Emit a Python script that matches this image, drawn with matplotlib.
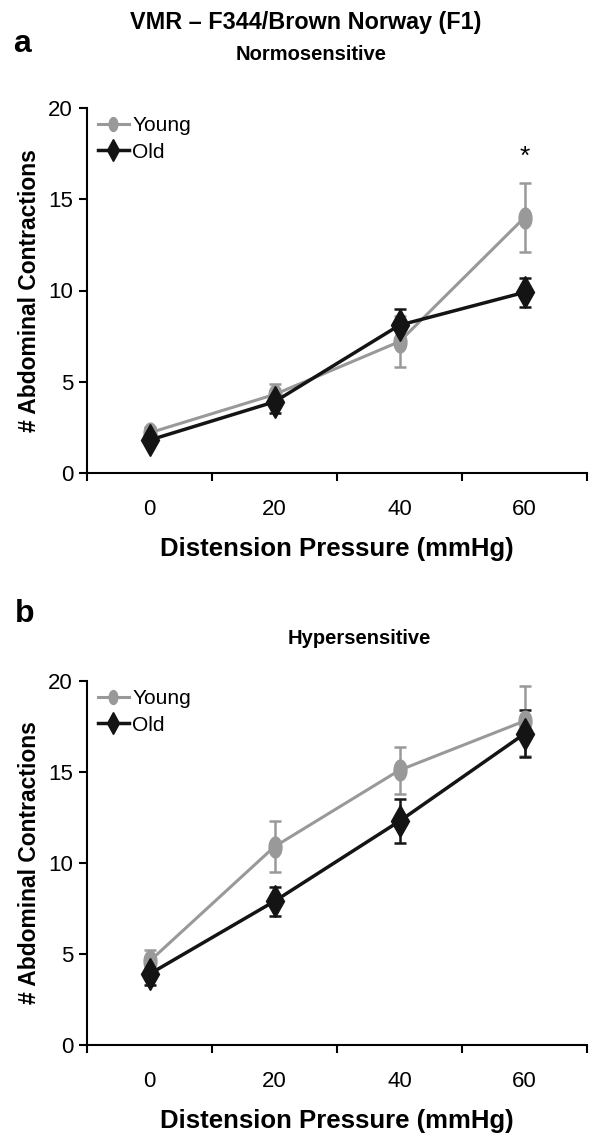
import matplotlib.pyplot as plt
import numpy as np
from matplotlib.lines import Line2D
from matplotlib.path import Path

plt.rcParams['font.family'] = ['Liberation Sans', 'DejaVu Sans']

# DATA
pressures = ["0", "20", "40", "60"]

normo_young = [2.2, 4.3, 7.2, 14.0]
normo_young_err = [0.3, 0.6, 1.4, 1.9]
normo_old = [1.8, 3.9, 8.1, 9.9]
normo_old_err = [0.2, 0.6, 0.9, 0.8]

hyper_young = [4.6, 10.9, 15.1, 17.8]
hyper_young_err = [0.6, 1.4, 1.3, 1.9]
hyper_old = [3.9, 7.9, 12.3, 17.1]
hyper_old_err = [0.6, 0.8, 1.2, 1.3]

YOUNG_COL = "#999999"
OLD_COL = "#141414"

# tall ellipse marker for the young group
t = np.linspace(0, 2 * np.pi, 40)
ellipse = Path(np.column_stack([0.62 * np.cos(t), np.sin(t)]), closed=True)

fig = plt.figure(figsize=(5.94, 11.37), dpi=100)
W, H = 594, 1137


def make_axes(top_px, bottom_px):
    return fig.add_axes([87 / W, 1 - bottom_px / H, 500 / W, (bottom_px - top_px) / H])


def draw_panel(ax, young, young_err, old, old_err):
    x = np.arange(len(pressures))
    ax.errorbar(x, young, yerr=young_err, color=YOUNG_COL, lw=2.2, marker=ellipse,
                ms=15, capsize=4, elinewidth=1.8, capthick=1.8)
    ax.errorbar(x, old, yerr=old_err, color=OLD_COL, lw=2.5, marker="d",
                ms=16, capsize=4, elinewidth=1.8, capthick=1.8)
    ax.set_xlim(-0.5, len(pressures) - 0.5)
    ax.set_ylim(0, 20)
    ax.set_yticks([0, 5, 10, 15, 20])
    ax.set_xticks(np.arange(len(pressures) + 1) - 0.5)
    ax.set_xticklabels([])
    ax.set_xticks(x, minor=True)
    ax.set_xticklabels(pressures, minor=True)
    ax.tick_params(axis="x", which="major", direction="out", length=6, width=1.5)
    ax.tick_params(axis="x", which="minor", length=0, pad=19, labelsize=16)
    ax.tick_params(axis="y", direction="out", length=6, width=1.5, labelsize=16, pad=4)
    for s in ["top", "right"]:
        ax.spines[s].set_visible(False)
    for s in ["left", "bottom"]:
        ax.spines[s].set_linewidth(1.5)
    ax.set_xlabel("Distension Pressure (mmHg)", fontsize=18.5, fontweight="bold", labelpad=12)
    ax.set_ylabel("# Abdominal Contractions", fontsize=16.5, fontweight="bold", labelpad=5)
    handles = [
        Line2D([], [], color=YOUNG_COL, lw=2.2, marker=ellipse, ms=10),
        Line2D([], [], color=OLD_COL, lw=2.5, marker="d", ms=11),
    ]
    ax.legend(handles, ["Young", "Old"], loc="upper left", frameon=False, fontsize=15,
              handlelength=1.5, handletextpad=0.15, borderaxespad=0.0, labelspacing=0.35,
              bbox_to_anchor=(0.005, 1.0))


ax1 = make_axes(108, 473)
draw_panel(ax1, normo_young, normo_young_err, normo_old, normo_old_err)
ax1.text(3, 17.3, "*", ha="center", va="center", fontsize=19)

ax2 = make_axes(681, 1045)
draw_panel(ax2, hyper_young, hyper_young_err, hyper_old, hyper_old_err)

fig.text(306 / W, 1 - 23 / H, "VMR \u2013 F344/Brown Norway (F1)", ha="center", va="center",
         fontsize=16.8, fontweight="bold")
fig.text(311 / W, 1 - 55 / H, "Normosensitive", ha="center", va="center",
         fontsize=14.5, fontweight="bold")
fig.text(359 / W, 1 - 639 / H, "Hypersensitive", ha="center", va="center",
         fontsize=14.5, fontweight="bold")
fig.text(13 / W, 1 - 44 / H, "a", ha="left", va="center", fontsize=23, fontweight="bold")
fig.text(15 / W, 1 - 614 / H, "b", ha="left", va="center", fontsize=23, fontweight="bold")

fig.savefig("out.png", dpi=100)
